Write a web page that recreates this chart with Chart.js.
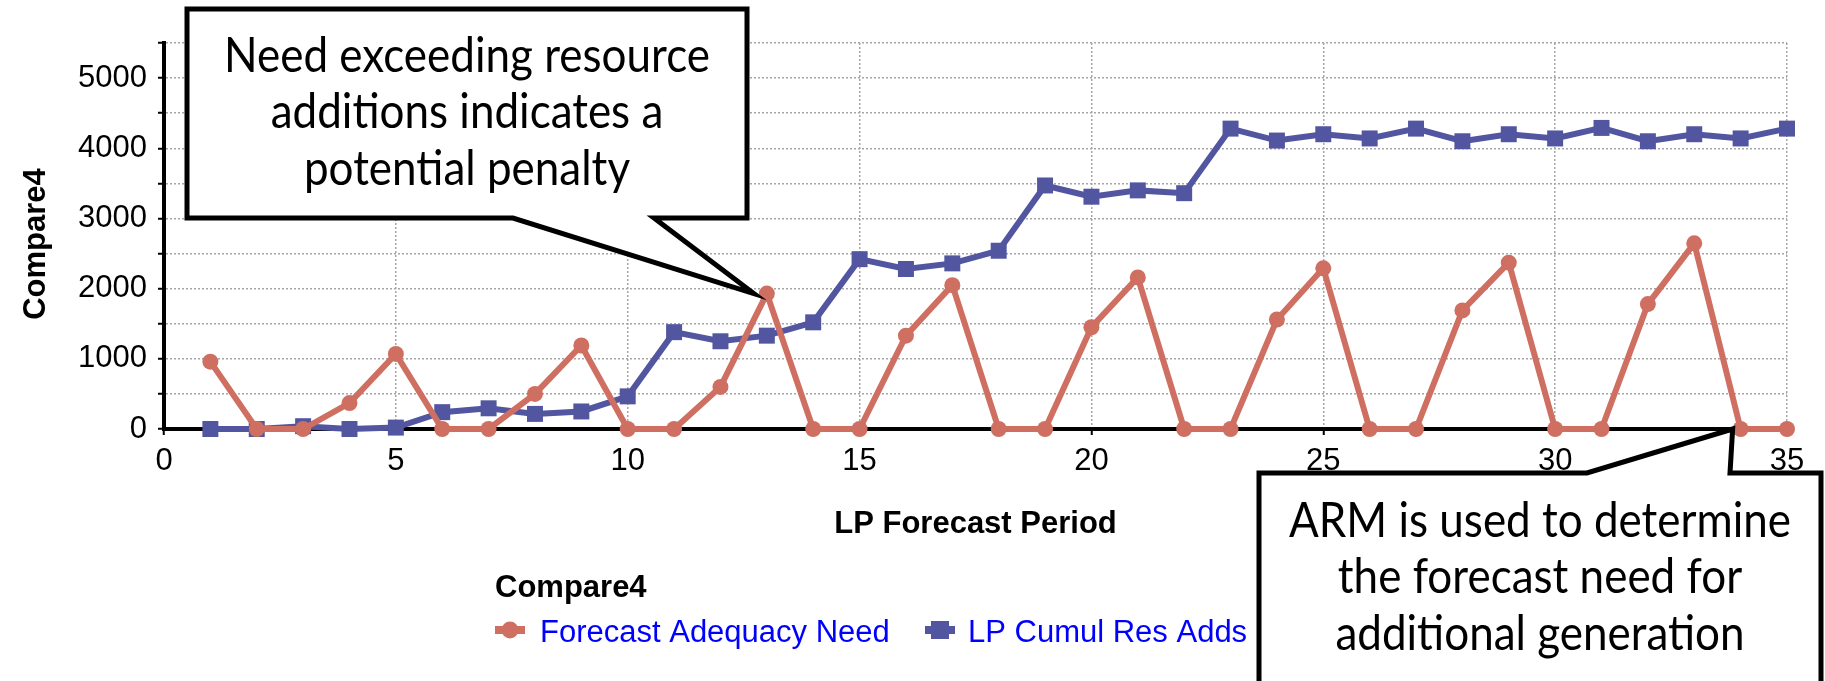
<!DOCTYPE html>
<html>
<head>
<meta charset="utf-8">
<script src="https://cdn.jsdelivr.net/npm/chart.js@4.4.1/dist/chart.umd.min.js"></script>
<style>
  html, body { margin: 0; padding: 0; background: #ffffff; }
  #wrap { width: 1825px; height: 681px; position: relative; }
</style>
</head>
<body>
<div id="wrap"><canvas id="chart" width="1825" height="681"></canvas></div>
<script>
// LP forecast periods
const periods = [1,2,3,4,5,6,7,8,9,10,11,12,13,14,15,16,17,18,19,20,21,22,23,24,25,26,27,28,29,30,31,32,33,34,35];

// Forecast Adequacy Need (MW)
const adequacyNeed = [960,0,0,370,1070,0,0,500,1190,0,0,600,1930,0,0,1330,2050,0,0,1450,2160,0,0,1560,2290,0,0,1690,2370,0,0,1780,2645,0,0];

// LP Cumulative Resource Additions (MW)
const cumulResAdds = [0,0,40,0,20,240,295,215,250,465,1380,1250,1330,1520,2420,2280,2360,2540,3470,3310,3400,3360,4280,4110,4200,4140,4280,4100,4200,4140,4290,4100,4200,4140,4280];

// Axis ticks
const xTickValues = [0,5,10,15,20,25,30,35];
const yLabelValues = [0,1000,2000,3000,4000,5000];
const yGridStep = 500;
const yMax = 5500;

const seriesNames = ['Forecast Adequacy Need', 'LP Cumul Res Adds'];
const groupName = 'Compare4';
const xTitle = 'LP Forecast Period';

const noteNeed = ['Need exceeding resource', 'additions indicates a', 'potential penalty'];
const noteArm = ['ARM is used to determine', 'the forecast need for', 'additional generation'];

const RED = '#CF6F62';
const BLUE = '#5256A0';
const AXIS_FONT = '"Liberation Sans", Arial, Helvetica, sans-serif';
const NOTE_FONT = 'Lato, "Open Sans", "Noto Sans", sans-serif';

function toPoints(values) {
  return periods.map((p, i) => ({ x: p, y: values[i] }));
}

// Callout box with a wedge pointing at a spot on the chart
function drawCallout(ctx, box, side, base, tip, lines, baselines) {
  ctx.save();
  ctx.beginPath();
  if (side === 'bottom') {
    ctx.moveTo(box.left, box.top);
    ctx.lineTo(box.right, box.top);
    ctx.lineTo(box.right, box.bottom);
    ctx.lineTo(base[1], box.bottom);
    ctx.lineTo(tip.x, tip.y);
    ctx.lineTo(base[0], box.bottom);
    ctx.lineTo(box.left, box.bottom);
  } else {
    ctx.moveTo(box.left, box.top);
    ctx.lineTo(base[0], box.top);
    ctx.lineTo(tip.x, tip.y);
    ctx.lineTo(base[1], box.top);
    ctx.lineTo(box.right, box.top);
    ctx.lineTo(box.right, box.bottom);
    ctx.lineTo(box.left, box.bottom);
  }
  ctx.closePath();
  ctx.fillStyle = '#ffffff';
  ctx.fill();
  ctx.lineWidth = 5;
  ctx.lineJoin = 'miter';
  ctx.strokeStyle = '#000000';
  ctx.stroke();
  ctx.fillStyle = '#000000';
  ctx.font = '44px ' + NOTE_FONT;
  ctx.textAlign = 'center';
  ctx.textBaseline = 'alphabetic';
  const cx = (box.left + box.right) / 2;
  lines.forEach((t, i) => {
    ctx.save();
    ctx.translate(cx, baselines[i]);
    ctx.scale(1, 1.12);
    ctx.fillText(t, 0, 0);
    ctx.restore();
  });
  ctx.restore();
}

const decorations = {
  id: 'decorations',
  afterDraw(chart) {
    const { ctx, chartArea, scales } = chart;
    const xs = scales.x, ys = scales.y;
    ctx.save();
    ctx.fillStyle = '#000000';
    ctx.textBaseline = 'alphabetic';

    // x axis title
    ctx.font = 'bold 31px ' + AXIS_FONT;
    ctx.textAlign = 'center';
    ctx.fillText(xTitle, (chartArea.left + chartArea.right) / 2, 533);

    // y axis title
    ctx.save();
    ctx.translate(45, 244);
    ctx.rotate(-Math.PI / 2);
    ctx.fillText(groupName, 0, 0);
    ctx.restore();

    // legend
    ctx.textAlign = 'left';
    ctx.fillText(groupName, 495, 597);
    const legendItems = [
      { x: 495, textX: 540 },
      { x: 925, textX: 968 }
    ];
    chart.data.datasets.forEach((ds, i) => {
      const it = legendItems[i];
      const cy = 630;
      ctx.strokeStyle = ds.borderColor;
      ctx.lineWidth = 8;
      ctx.beginPath();
      ctx.moveTo(it.x, cy);
      ctx.lineTo(it.x + 30, cy);
      ctx.stroke();
      ctx.fillStyle = ds.pointBackgroundColor;
      if (ds.pointStyle === 'rect') {
        ctx.fillRect(it.x + 15 - 9, cy - 9, 18, 18);
      } else {
        ctx.beginPath();
        ctx.arc(it.x + 15, cy, 8.5, 0, Math.PI * 2);
        ctx.fill();
      }
      ctx.fillStyle = '#0000FF';
      ctx.font = '31px ' + AXIS_FONT;
      ctx.fillText(ds.label, it.textX, 642);
    });
    ctx.restore();

    // callouts
    drawCallout(ctx,
      { left: 187, top: 9, right: 747, bottom: 218 }, 'bottom', [513, 654],
      { x: xs.getPixelForValue(periods[12]) - 13, y: ys.getPixelForValue(adequacyNeed[12]) },
      noteNeed, [72, 128, 185]);
    drawCallout(ctx,
      { left: 1259, top: 473, right: 1821, bottom: 700 }, 'top', [1587, 1730],
      { x: xs.getPixelForValue(periods[33]) - 8, y: ys.getPixelForValue(adequacyNeed[33]) },
      noteArm, [537, 593, 650]);
  }
};

new Chart(document.getElementById('chart'), {
  type: 'line',
  data: {
    datasets: [
      {
        label: seriesNames[0],
        data: toPoints(adequacyNeed),
        borderColor: RED,
        backgroundColor: RED,
        pointBackgroundColor: RED,
        pointBorderWidth: 0,
        pointStyle: 'circle',
        pointRadius: 8,
        borderWidth: 6,
        tension: 0,
        clip: false
      },
      {
        label: seriesNames[1],
        data: toPoints(cumulResAdds),
        borderColor: BLUE,
        backgroundColor: BLUE,
        pointBackgroundColor: BLUE,
        pointBorderWidth: 0,
        pointStyle: 'rect',
        pointRadius: 11.3,
        borderWidth: 6,
        tension: 0,
        clip: false
      }
    ]
  },
  options: {
    responsive: false,
    animation: false,
    events: [],
    layout: { padding: { top: 43, right: 38, left: 0, bottom: 0 } },
    plugins: { legend: { display: false }, tooltip: { enabled: false } },
    scales: {
      x: {
        type: 'linear',
        min: 0,
        max: 35,
        afterBuildTicks(scale) { scale.ticks = xTickValues.map(v => ({ value: v })); },
        afterFit(scale) { scale.height = 252; },
        ticks: { color: '#000', font: { family: AXIS_FONT, size: 31 }, padding: 8, maxRotation: 0, autoSkip: false },
        grid: { color: '#a6a6a6', lineWidth: 1.5, tickColor: '#000', tickWidth: 2, tickLength: 6 },
        border: { color: '#000', width: 4, dash: [2, 2] }
      },
      y: {
        type: 'linear',
        min: 0,
        max: yMax,
        ticks: {
          stepSize: yGridStep,
          color: '#000',
          font: { family: AXIS_FONT, size: 31 },
          padding: 11,
          autoSkip: false,
          callback: v => (yLabelValues.includes(v) ? String(v) : '')
        },
        afterFit(scale) { scale.width = 164; },
        grid: { color: '#a6a6a6', lineWidth: 1.5, tickColor: '#000', tickWidth: 2, tickLength: 6 },
        border: { color: '#000', width: 4, dash: [2, 2] }
      }
    }
  },
  plugins: [decorations]
});
</script>
</body>
</html>
